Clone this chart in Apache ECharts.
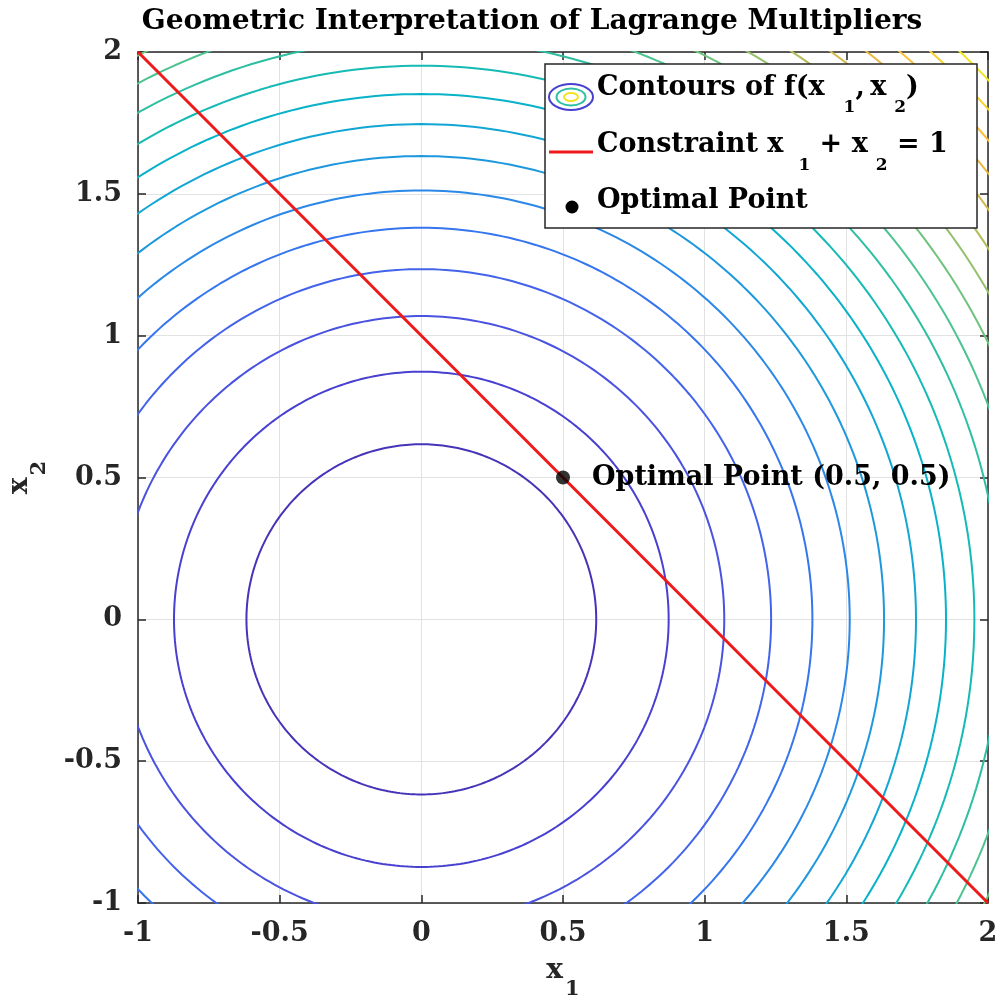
<!DOCTYPE html>
<html>
<head>
<meta charset="utf-8">
<script src="https://cdn.jsdelivr.net/npm/echarts@6/dist/echarts.min.js"></script>
<style>
html,body{margin:0;padding:0;background:#fff;}
#chart{width:1000px;height:1005px;}
</style>
</head>
<body>
<div id="chart"></div>
<script>
// ---- data ----
// contour levels of f(x1,x2) = x1^2 + x2^2
const contourLevels = [0.381, 0.762, 1.143, 1.524, 1.905, 2.286, 2.667, 3.048, 3.429, 3.810,
                       4.190, 4.571, 4.952, 5.333, 5.714, 6.095, 6.476, 6.857, 7.238, 7.619];
// constraint x1 + x2 = 1 endpoints
const constraintX1 = [-1, 2];
const constraintX2 = [2, -1];
// optimal point
const optimalX1 = [0.5];
const optimalX2 = [0.5];
// ticks
const xTickValues = [-1, -0.5, 0, 0.5, 1, 1.5, 2];
const xTickLabels = ['-1', '-0.5', '0', '0.5', '1', '1.5', '2'];
const yTickValues = [-1, -0.5, 0, 0.5, 1, 1.5, 2];
const yTickLabels = ['-1', '-0.5', '0', '0.5', '1', '1.5', '2'];

// ---- styles ----
const contourColors = ['#4534b8', '#4840d0', '#4a52e0', '#4363ea', '#3575ee', '#2a88e8', '#1e98dd',
  '#12a6d4', '#08b2c8', '#16bab5', '#2ebfa2', '#4cc390', '#6fc37d', '#93c06a', '#b4bc5a',
  '#d2b84a', '#eab83e', '#fbc038', '#f6d02c', '#f2e322'];
const FONT = '"DejaVu Serif", "Liberation Serif", serif';
const AXC = '#262626';

// contour curve for level L of f = x1^2 + x2^2
function contourCurve(level) {
  const r = Math.sqrt(level);
  const pts = [];
  for (let a = 0; a <= 360; a += 1) {
    const t = a * Math.PI / 180;
    pts.push([r * Math.cos(t), r * Math.sin(t)]);
  }
  return pts;
}

const series = [];
contourLevels.forEach((lv, i) => {
  series.push({
    name: 'Contours of f(x1, x2)',
    type: 'line',
    data: contourCurve(lv),
    showSymbol: false,
    symbol: 'none',
    clip: true,
    silent: true,
    z: 2,
    lineStyle: { color: contourColors[i], width: 2 }
  });
});
series.push({
  name: 'Constraint x1 + x2 = 1',
  type: 'line',
  data: constraintX1.map((x, i) => [x, constraintX2[i]]),
  showSymbol: false,
  symbol: 'none',
  clip: true,
  z: 3,
  lineStyle: { color: '#ee1a1a', width: 3 }
});
series.push({
  name: 'Optimal Point',
  type: 'scatter',
  data: optimalX1.map((x, i) => [x, optimalX2[i]]),
  symbol: 'circle',
  symbolSize: 14,
  z: 4,
  itemStyle: { color: '#000' },
  label: {
    show: true,
    position: 'right',
    distance: 22,
    formatter: p => 'Optimal Point (' + p.value[0] + ', ' + p.value[1] + ')',
    fontFamily: FONT, fontWeight: 'bold', fontSize: 27, color: '#000',
    textBorderWidth: 0, opacity: 1
  }
});

function tickFmt(values, labels) {
  return v => {
    const i = values.findIndex(t => Math.abs(t - v) < 1e-9);
    return i >= 0 ? labels[i] : '';
  };
}

const baseAxis = {
  type: 'value', min: -1, max: 2, interval: 0.5,
  axisLine: { show: true, onZero: false, lineStyle: { color: AXC, width: 1.5 } },
  axisTick: { show: true, inside: true, length: 8, lineStyle: { color: AXC, width: 1.5 } }
};

const mainFont = 'bold 27px ' + FONT;
const subFont = 'bold 17px ' + FONT;

const option = {
  animation: false,
  backgroundColor: '#fff',
  title: {
    text: 'Geometric Interpretation of Lagrange Multipliers',
    left: 532, top: 8, textAlign: 'center', padding: 0,
    textStyle: { fontFamily: FONT, fontWeight: 'bold', fontSize: 28, color: '#000' }
  },
  grid: { left: 138, right: 12, top: 52, bottom: 102, outerBoundsMode: 'none', containLabel: false },
  xAxis: [
    Object.assign({}, baseAxis, {
      position: 'bottom',
      axisLabel: { show: true, margin: 31, verticalAlign: 'middle', showMinLabel: true, showMaxLabel: true,
        fontFamily: FONT, fontWeight: 'bold', fontSize: 27, color: AXC,
        formatter: tickFmt(xTickValues, xTickLabels) },
      splitLine: { show: true, lineStyle: { color: '#e2e2e2', width: 1 } },
      name: '{m|x}{s|1}',
      nameLocation: 'middle',
      nameGap: 68,
      nameTextStyle: {
        verticalAlign: 'middle', align: 'center',
        rich: {
          m: { fontFamily: FONT, fontWeight: 'bold', fontSize: 28, color: AXC },
          s: { fontFamily: FONT, fontWeight: 'bold', fontSize: 21, color: AXC, padding: [37, 0, 0, 2] }
        }
      }
    }),
    Object.assign({}, baseAxis, {
      position: 'top',
      axisLabel: { show: false },
      splitLine: { show: false }
    })
  ],
  yAxis: [
    Object.assign({}, baseAxis, {
      position: 'left',
      axisLabel: { show: true, margin: 16, showMinLabel: true, showMaxLabel: true,
        fontFamily: FONT, fontWeight: 'bold', fontSize: 27, color: AXC,
        formatter: tickFmt(yTickValues, yTickLabels) },
      splitLine: { show: true, lineStyle: { color: '#e2e2e2', width: 1 } },
      name: '{m|x}{s|2}',
      nameLocation: 'middle',
      nameGap: 118,
      nameRotate: 90,
      nameTextStyle: {
        verticalAlign: 'middle', align: 'center',
        rich: {
          m: { fontFamily: FONT, fontWeight: 'bold', fontSize: 28, color: AXC },
          s: { fontFamily: FONT, fontWeight: 'bold', fontSize: 21, color: AXC, padding: [40, 0, 0, 2] }
        }
      }
    }),
    Object.assign({}, baseAxis, {
      position: 'right',
      axisLabel: { show: false },
      splitLine: { show: false }
    })
  ],
  series: series,
  graphic: [
    { type: 'rect', z: 100, shape: { x: 545, y: 64, width: 432, height: 164 },
      style: { fill: '#fff', stroke: AXC, lineWidth: 1.5 } },
    { type: 'ellipse', z: 101, shape: { cx: 571, cy: 97, rx: 22, ry: 13 },
      style: { fill: 'none', stroke: contourColors[1], lineWidth: 2 } },
    { type: 'ellipse', z: 101, shape: { cx: 571, cy: 97, rx: 14.5, ry: 8.5 },
      style: { fill: 'none', stroke: contourColors[10], lineWidth: 2 } },
    { type: 'ellipse', z: 101, shape: { cx: 571, cy: 97, rx: 7, ry: 4 },
      style: { fill: 'none', stroke: contourColors[19], lineWidth: 2 } },
    { type: 'line', z: 101, shape: { x1: 549, y1: 152, x2: 593, y2: 152 },
      style: { stroke: '#ee1a1a', lineWidth: 3 } },
    { type: 'circle', z: 101, shape: { cx: 572, cy: 207, r: 6.5 },
      style: { fill: '#000' } },
    { type: 'text', z: 101, x: 597, y: 88,
      style: { text: '{m|Contours of f(x}{a|1}{m|,\u2009x}{b|2}{m|)}', font: mainFont, fill: '#000',
        align: 'left', verticalAlign: 'middle',
        rich: {
          m: { font: mainFont, fill: '#000' },
          a: { font: subFont, fill: '#000', padding: [40, 0, 0, 19] },
          b: { font: subFont, fill: '#000', padding: [40, 0, 0, 8] }
        } } },
    { type: 'text', z: 101, x: 597, y: 145,
      style: { text: '{m|Constraint x}{a|1}{m| + x}{b|2}{m| = 1}', font: mainFont, fill: '#000',
        align: 'left', verticalAlign: 'middle',
        rich: {
          m: { font: mainFont, fill: '#000' },
          a: { font: subFont, fill: '#000', padding: [42, 0, 0, 15] },
          b: { font: subFont, fill: '#000', padding: [42, 0, 0, 8] }
        } } },
    { type: 'text', z: 101, x: 597, y: 201,
      style: { text: 'Optimal Point', font: mainFont, fill: '#000', align: 'left', verticalAlign: 'middle' } }
  ]
};

const chart = echarts.init(document.getElementById('chart'), null, { renderer: 'canvas' });
chart.setOption(option);
</script>
</body>
</html>
